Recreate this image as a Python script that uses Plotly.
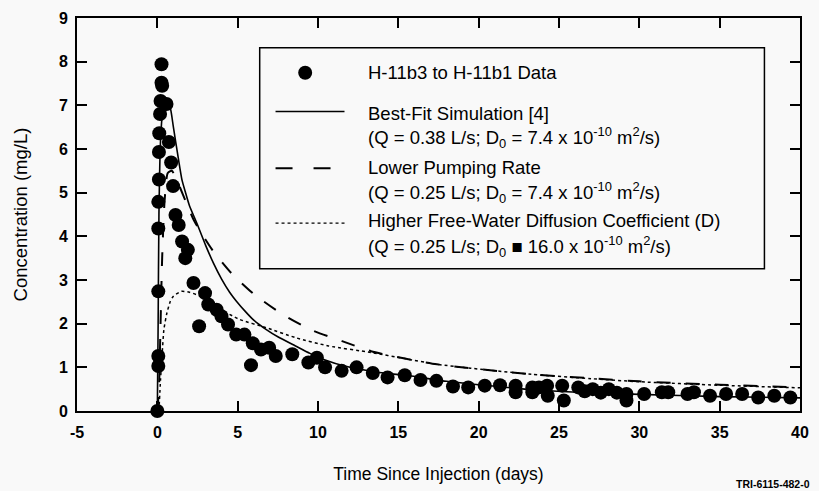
import plotly.graph_objects as go

# ---- data ----
data_x = [0, 0.06, 0.06, 0.06, 0.06, 0.06, 0.1, 0.1, 0.12, 0.17, 0.2, 0.3, 0.26, 0.26,
          0.57, 0.72, 0.86, 0.98, 1.13, 1.33, 1.54, 1.74, 1.9, 2.25, 2.6, 2.97, 3.17, 3.69,
          3.99, 4.4, 4.91, 5.42, 5.83, 5.94, 6.45, 6.96, 7.37, 8.4, 9.4, 9.93, 10.44, 11.47,
          12.4, 13.41, 14.33, 15.4, 16.38, 17.37, 18.4, 19.35, 20.38, 21.33, 22.3, 22.3,
          23.34, 23.34, 23.75, 24.26, 24.3, 25.2, 25.3, 26.2, 26.6, 27.1, 27.6, 28.1, 28.6,
          29.2, 29.2, 30.3, 31.4, 31.8, 33.0, 33.4, 34.4, 35.4, 36.4, 37.4, 38.4, 39.4]
data_y = [0, 1.03, 1.26, 2.74, 4.18, 4.79, 5.3, 5.93, 6.36, 6.8, 7.1, 7.45, 7.52, 7.94,
          7.03, 6.16, 5.69, 5.15, 4.49, 4.26, 3.88, 3.5, 3.69, 2.93, 1.94, 2.7, 2.44, 2.32,
          2.17, 1.98, 1.75, 1.75, 1.05, 1.55, 1.41, 1.45, 1.26, 1.3, 1.11, 1.22, 1.0, 0.92,
          1.0, 0.87, 0.77, 0.82, 0.71, 0.69, 0.56, 0.54, 0.58, 0.59, 0.58, 0.43,
          0.54, 0.43, 0.54, 0.58, 0.35, 0.58, 0.24, 0.54, 0.45, 0.5, 0.42, 0.5, 0.42,
          0.39, 0.24, 0.39, 0.43, 0.43, 0.39, 0.43, 0.35, 0.39, 0.39, 0.31, 0.35, 0.31]

best_x = [0, 0.05, 0.1, 0.2, 0.35, 0.55, 0.8, 1.0, 1.3, 1.54, 1.74, 2.0, 2.46, 3.0, 3.5,
          4.0, 4.5, 4.91, 5.5, 6.0, 6.76, 7.5, 8.6, 9.5, 10.44, 11.67, 13.5, 15.8, 18, 20,
          24, 30, 35, 40]
best_y = [0, 2.0, 4.5, 6.2, 6.9, 7.1, 6.95, 6.5, 5.8, 5.28, 5.02, 4.7, 4.3, 3.8, 3.38,
          3.02, 2.72, 2.52, 2.27, 2.08, 1.87, 1.7, 1.49, 1.32, 1.17, 1.03, 0.9, 0.8, 0.68, 0.6,
          0.47, 0.38, 0.33, 0.3]

low_x = [0, 0.1, 0.2, 0.3, 0.45, 0.65, 0.9, 1.2, 1.6, 2.3, 3.4, 4.6, 6.0, 7.8, 9.5, 11.5,
         13.3, 15.4, 17.4, 19.5, 23.3, 27, 30, 35, 40]
low_y = [0, 0.5, 2.0, 3.5, 4.8, 5.45, 5.5, 5.3, 4.95, 4.35, 3.7, 3.16, 2.68, 2.21, 1.87, 1.6,
         1.37, 1.2, 1.07, 0.98, 0.84, 0.75, 0.68, 0.6, 0.54]

high_x = [0.1, 0.2, 0.3, 0.41, 0.6, 0.8, 1.0, 1.5, 2.0, 2.66, 3.5, 5.1, 6.76, 8.6, 10.65,
          13.3, 15.4, 17.4, 19.5, 23.3, 27, 30, 35, 40]
high_y = [0, 0.73, 1.3, 1.87, 2.25, 2.5, 2.63, 2.74, 2.72, 2.63, 2.42, 2.1, 1.91, 1.68, 1.49,
          1.34, 1.2, 1.07, 0.98, 0.84, 0.74, 0.67, 0.59, 0.53]

x_ticks = [-5, 0, 5, 10, 15, 20, 25, 30, 35, 40]
y_ticks = [0, 1, 2, 3, 4, 5, 6, 7, 8, 9]

legend_lines = [
    "H-11b3 to H-11b1 Data",
    "Best-Fit Simulation [4]",
    "(Q = 0.38 L/s; D<sub>0</sub> = 7.4 x 10<sup>-10</sup> m<sup>2</sup>/s)",
    "Lower Pumping Rate",
    "(Q = 0.25 L/s; D<sub>0</sub> = 7.4 x 10<sup>-10</sup> m<sup>2</sup>/s)",
    "Higher Free-Water Diffusion Coefficient (D)",
    "(Q = 0.25 L/s; D<sub>0</sub> ■ 16.0 x 10<sup>-10</sup> m<sup>2</sup>/s)",
]
legend_line_y = [0.8608, 0.757, 0.696, 0.620, 0.557, 0.484, 0.418]

FONT = "Arial, Liberation Sans, Helvetica, sans-serif"
BG = "#f9f9f9"

fig = go.Figure()
fig.add_trace(go.Scatter(x=high_x, y=high_y, mode="lines", line_shape="spline",
                         line=dict(color="black", width=1.5, dash="3px,3px", smoothing=0.6),
                         showlegend=False))
fig.add_trace(go.Scatter(x=low_x, y=low_y, mode="lines", line_shape="spline",
                         line=dict(color="black", width=2, dash="14px,15px", smoothing=0.6),
                         showlegend=False))
fig.add_trace(go.Scatter(x=best_x, y=best_y, mode="lines", line_shape="spline",
                         line=dict(color="black", width=1.6, smoothing=0.6), showlegend=False))
fig.add_trace(go.Scatter(x=data_x, y=data_y, mode="markers",
                         marker=dict(color="black", size=14, line=dict(width=0)),
                         showlegend=False, cliponaxis=False))

# legend box
fig.add_shape(type="rect", xref="paper", yref="paper", x0=0.2527, x1=0.9508, y0=0.362, y1=0.924,
              line=dict(color="black", width=1.5), fillcolor=BG, layer="below")
fig.add_shape(type="circle", xref="paper", yref="paper", xsizemode="pixel", ysizemode="pixel",
              xanchor=0.3156, yanchor=0.8608, x0=-7, x1=7, y0=-7, y1=7,
              fillcolor="black", line=dict(color="black", width=0))
fig.add_shape(type="line", xref="paper", yref="paper", x0=0.2746, x1=0.370, y0=0.762, y1=0.762,
              line=dict(color="black", width=1.5))
fig.add_shape(type="line", xref="paper", yref="paper", x0=0.2746, x1=0.370, y0=0.6177, y1=0.6177,
              line=dict(color="black", width=2, dash="17px,21px"))
fig.add_shape(type="line", xref="paper", yref="paper", x0=0.2746, x1=0.370, y0=0.478, y1=0.478,
              line=dict(color="black", width=1.3, dash="3px,3px"))
for txt, yy in zip(legend_lines, legend_line_y):
    fig.add_annotation(x=0.4003, y=yy, xref="paper", yref="paper", text=txt, showarrow=False,
                       xanchor="left", yanchor="middle", font=dict(family=FONT, size=18.5, color="black"))

fig.add_annotation(x=0.9085, y=-0.187, xref="paper", yref="paper", text="<b>TRI-6115-482-0</b>",
                   showarrow=False, xanchor="left", yanchor="middle",
                   font=dict(family=FONT, size=10.5, color="black"))

axis_common = dict(showgrid=False, zeroline=False, showline=True, linecolor="black", linewidth=2,
                   mirror="ticks", ticks="inside", ticklen=10, tickwidth=1.5, tickcolor="black",
                   tickfont=dict(family=FONT, size=16, color="black", weight="bold"))
fig.update_xaxes(range=[-5, 40], tickvals=x_ticks, ticktext=[str(v) for v in x_ticks],
                 ticklabelstandoff=6,
                 title=dict(text="Time Since Injection (days)", standoff=28,
                            font=dict(family=FONT, size=17.5, color="black")),
                 **axis_common)
fig.update_yaxes(range=[0, 9], tickvals=y_ticks, ticktext=[str(v) for v in y_ticks],
                 ticklabelstandoff=4,
                 title=dict(text="Concentration (mg/L)", standoff=26,
                            font=dict(family=FONT, size=18.5, color="black")),
                 **axis_common)

fig.update_layout(width=819, height=491, margin=dict(l=77, r=10, t=17, b=79),
                  paper_bgcolor=BG, plot_bgcolor=BG, showlegend=False)

fig.write_html("out.html")
